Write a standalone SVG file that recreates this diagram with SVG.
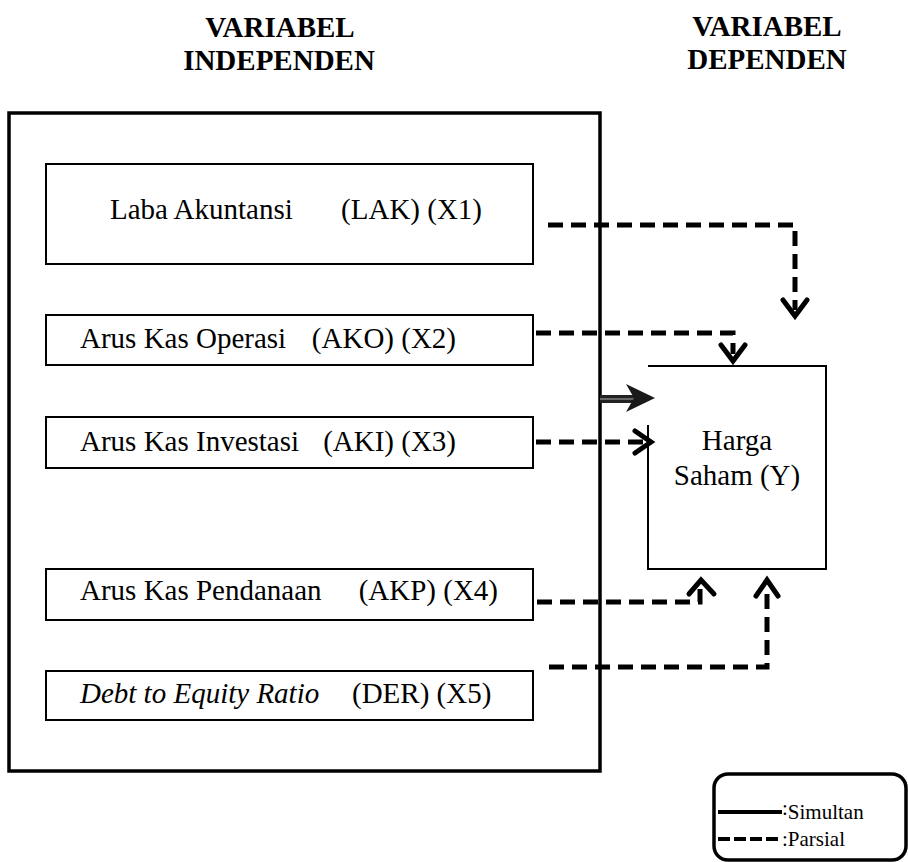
<svg xmlns="http://www.w3.org/2000/svg" width="908" height="862" viewBox="0 0 908 862">
<style>
  .hd { font-family: "Liberation Serif", "Times New Roman", serif; font-weight: bold; font-size: 29px; fill: #000; text-anchor: middle; }
  .tx { font-family: "Liberation Serif", "Times New Roman", serif; font-size: 29px; fill: #000; }
  .box { fill: #fff; stroke: #000; stroke-width: 2; }
  .dash { fill: none; stroke: #000; stroke-width: 5; stroke-dasharray: 15 8; }
  .head { fill: none; stroke: #000; stroke-width: 5; stroke-linejoin: miter; stroke-linecap: round; }
  .lg { font-family: "Liberation Serif", "Times New Roman", serif; font-size: 21px; fill: #000; }
</style>
<rect width="908" height="862" fill="#fff"/>

<g id="headings">
  <text class="hd" x="280" y="37">VARIABEL</text>
  <text class="hd" x="279" y="70">INDEPENDEN</text>
  <text class="hd" x="767" y="36">VARIABEL</text>
  <text class="hd" x="767" y="69">DEPENDEN</text>
</g>

<g id="independent-group">
  <rect x="9" y="113" width="591" height="658" fill="none" stroke="#000" stroke-width="3.5"/>
</g>

<g id="node-lak">
  <rect class="box" x="46" y="164" width="487" height="100"/>
  <text class="tx" x="110" y="219">Laba Akuntansi</text>
  <text class="tx" x="482" y="219" text-anchor="end">(LAK) (X1)</text>
</g>
<g id="node-ako">
  <rect class="box" x="46" y="315" width="487" height="50"/>
  <text class="tx" x="80" y="348">Arus Kas Operasi</text>
  <text class="tx" x="456" y="348" text-anchor="end">(AKO) (X2)</text>
</g>
<g id="node-aki">
  <rect class="box" x="46" y="417" width="487" height="51"/>
  <text class="tx" x="80" y="451">Arus Kas Investasi</text>
  <text class="tx" x="456" y="451" text-anchor="end">(AKI) (X3)</text>
</g>
<g id="node-akp">
  <rect class="box" x="46" y="569" width="487" height="51"/>
  <text class="tx" x="80" y="600">Arus Kas Pendanaan</text>
  <text class="tx" x="498" y="600" text-anchor="end">(AKP) (X4)</text>
</g>
<g id="node-der">
  <rect class="box" x="46" y="671" width="487" height="49"/>
  <text class="tx" x="80" y="703" font-style="italic">Debt to Equity Ratio</text>
  <text class="tx" x="352" y="703">(DER) (X5)</text>
</g>

<g id="node-y">
  <path d="M648,425 V569 H826 V366 H648" fill="none" stroke="#000" stroke-width="2"/>
  <text class="tx" x="737" y="450" text-anchor="middle">Harga</text>
  <text class="tx" x="737" y="485" text-anchor="middle">Saham (Y)</text>
</g>

<g id="connectors">
  <path class="dash" d="M548,225 H795 V310"/>
  <polyline class="head" points="783,300 795,316 807,300"/>
  <path class="dash" d="M536,333 H733 V354"/>
  <polyline class="head" points="721,345 733,361 745,345"/>
  <path class="dash" d="M536,442 H645"/>
  <polyline class="head" points="635,431 651,442 635,453"/>
  <path class="dash" d="M537,602 H700 V586"/>
  <polyline class="head" points="689,594 701,580 714,594"/>
  <path class="dash" d="M549,667 H767 V586"/>
  <polyline class="head" points="756,596 767,580 778,596"/>
  <rect x="600" y="395" width="38" height="8" fill="#222"/>
  <rect x="600" y="398" width="36" height="2" fill="#666"/>
  <polygon points="626,384 655,398 626,412 634,398" fill="#1a1a1a"/>
</g>

<g id="legend">
  <rect x="714" y="774" width="192" height="86" rx="14" fill="none" stroke="#000" stroke-width="3.5"/>
  <line x1="718" y1="812" x2="782" y2="812" stroke="#000" stroke-width="4"/>
  <text class="lg" x="782" y="819"><tspan dy="-4">:</tspan><tspan dy="4">Simultan</tspan></text>
  <line x1="718" y1="839" x2="778" y2="839" stroke="#000" stroke-width="4" stroke-dasharray="12 4"/>
  <text class="lg" x="782" y="846">:Parsial</text>
</g>
</svg>
